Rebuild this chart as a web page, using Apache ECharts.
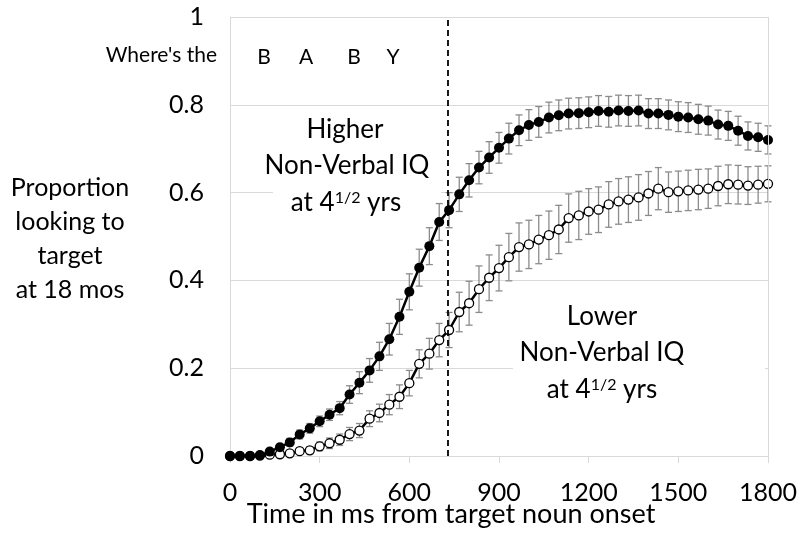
<!DOCTYPE html>
<html><head><meta charset="utf-8">
<script src="https://cdn.jsdelivr.net/npm/echarts@6/dist/echarts.min.js"></script>
<style>html,body{margin:0;padding:0;background:#fff}#c{width:800px;height:537px}</style>
</head><body><div id="c"></div>
<script>
// Time (ms from target noun onset), one sample per video frame
const timesMs = [0,33,67,100,133,167,200,233,267,300,333,367,400,433,467,500,533,567,600,633,667,700,733,767,800,833,867,900,933,967,1000,1033,1067,1100,1133,1167,1200,1233,1267,1300,1333,1367,1400,1433,1467,1500,1533,1567,1600,1633,1667,1700,1733,1767,1800];
// Higher Non-Verbal IQ group (filled circles)
const higherIQ = [0,0,0,0.002,0.01,0.02,0.031,0.049,0.063,0.079,0.094,0.109,0.140,0.167,0.195,0.227,0.266,0.317,0.374,0.429,0.478,0.533,0.560,0.596,0.628,0.657,0.680,0.702,0.723,0.742,0.754,0.761,0.771,0.776,0.780,0.781,0.783,0.786,0.784,0.787,0.786,0.787,0.780,0.780,0.777,0.773,0.771,0.767,0.764,0.755,0.752,0.741,0.729,0.726,0.720];
const higherErr = [0,0,0,0.002,0.005,0.007,0.009,0.010,0.011,0.012,0.013,0.015,0.020,0.025,0.027,0.032,0.036,0.040,0.041,0.042,0.042,0.042,0.040,0.039,0.038,0.037,0.036,0.035,0.035,0.035,0.035,0.035,0.035,0.035,0.035,0.035,0.035,0.035,0.035,0.035,0.035,0.035,0.034,0.034,0.034,0.034,0.034,0.034,0.033,0.033,0.033,0.033,0.032,0.032,0.032];
// Lower Non-Verbal IQ group (open circles)
const lowerIQ = [0,0,0,0.001,0.003,0.004,0.006,0.011,0.013,0.022,0.029,0.037,0.050,0.058,0.085,0.098,0.117,0.135,0.166,0.210,0.233,0.264,0.287,0.328,0.348,0.380,0.406,0.428,0.453,0.476,0.482,0.493,0.503,0.516,0.542,0.548,0.557,0.561,0.573,0.580,0.584,0.589,0.598,0.609,0.601,0.603,0.605,0.607,0.609,0.615,0.619,0.618,0.616,0.618,0.620];
const lowerErr = [0,0,0,0.001,0.003,0.004,0.005,0.007,0.008,0.010,0.012,0.013,0.015,0.016,0.018,0.020,0.023,0.027,0.029,0.032,0.035,0.038,0.040,0.045,0.050,0.053,0.052,0.052,0.054,0.055,0.055,0.055,0.055,0.055,0.055,0.055,0.052,0.052,0.052,0.052,0.052,0.052,0.050,0.048,0.046,0.046,0.046,0.046,0.045,0.045,0.044,0.044,0.043,0.042,0.041];
const yTicks = [0, 0.2, 0.4, 0.6, 0.8, 1];
const xTicks = [0, 300, 600, 900, 1200, 1500, 1800];
const nounOffsetMs = 728;
const babyLetters = ['B','A','B','Y'];

const FONT = 'Lato, "Open Sans", sans-serif';
const chart = echarts.init(document.getElementById('c'), null, {renderer:'canvas'});

function errSeries(vals, errs){
  return {
    type:'custom', z:1, silent:true,
    renderItem:(params, api)=>{
      const x = api.value(0), lo = api.value(1), hi = api.value(2);
      if (hi - lo < 0.003) return null;
      const a = api.coord([x, lo]), b = api.coord([x, hi]);
      const w = 3.5, st = {stroke:'#8c8c8c', lineWidth:1.3};
      return {type:'group', children:[
        {type:'line', shape:{x1:a[0],y1:a[1],x2:b[0],y2:b[1]}, style:st},
        {type:'line', shape:{x1:a[0]-w,y1:a[1],x2:a[0]+w,y2:a[1]}, style:st},
        {type:'line', shape:{x1:b[0]-w,y1:b[1],x2:b[0]+w,y2:b[1]}, style:st}
      ]};
    },
    encode:{x:0, y:[1,2]},
    data: timesMs.map((t,i)=>[t, vals[i]-errs[i], vals[i]+errs[i]])
  };
}

const textStyle = (txt, x, y, size, align) => ({
  type:'text', x, y, z:10,
  style:{text:txt, font: size+'px '+FONT, fill:'#000', textAlign: align||'center', textVerticalAlign:'middle'}
});
const supText = (x, y) => ({
  type:'text', x, y, z:10,
  style:{text:'at 4{sup|1/2} yrs', font:'26px '+FONT, fill:'#000', textAlign:'center', textVerticalAlign:'middle',
    rich:{sup:{font:'16px '+FONT, fill:'#000', verticalAlign:'top'}}}
});
const letterX = [264, 306, 354, 393];

chart.setOption({
  animation:false,
  backgroundColor:'#fff',
  grid:{left:230, right:32, top:17, bottom:81, containLabel:false},
  xAxis:{type:'value', min:0, max:1800, interval:300,
    axisLine:{show:true, lineStyle:{color:'#d9d9d9', width:1}},
    axisTick:{show:true, length:7, lineStyle:{color:'#d9d9d9'}},
    splitLine:{show:false},
    axisLabel:{fontFamily:FONT, fontSize:25, color:'#000', margin:24,
      formatter:v=>xTicks.includes(v)?String(v):''}
  },
  yAxis:{type:'value', min:0, max:1, interval:0.2,
    axisLine:{show:true, lineStyle:{color:'#d9d9d9', width:1}},
    axisTick:{show:false},
    splitLine:{show:true, lineStyle:{color:'#d9d9d9', width:1}},
    axisLabel:{fontFamily:FONT, fontSize:25, color:'#000', margin:26,
      formatter:v=>{const t=yTicks.find(k=>Math.abs(k-v)<1e-6); return t===undefined?'':String(t);}}
  },
  graphic:[
    {type:'rect', z:1, shape:{x:273, y:110, width:168, height:162}, style:{fill:'#fff'}},
    {type:'rect', z:1, shape:{x:513, y:292, width:252, height:118}, style:{fill:'#fff'}},
    textStyle('Higher', 345, 130, 26),
    textStyle('Non-Verbal IQ', 347, 166, 26),
    supText(346, 203),
    textStyle('Lower', 602, 317, 26),
    textStyle('Non-Verbal IQ', 602, 353, 26),
    supText(602, 390),
    textStyle("Where's the", 217, 55, 21, 'right'),
    ...babyLetters.map((l,i)=>textStyle(l, letterX[i], 57, 21)),
    textStyle('Proportion', 70, 188, 25),
    textStyle('looking to', 70, 222, 25),
    textStyle('target', 70, 256, 25),
    textStyle('at 18 mos', 70, 290, 25),
    textStyle('Time in ms from target noun onset', 451, 514, 27)
  ],
  series:[
    errSeries(lowerIQ, lowerErr),
    errSeries(higherIQ, higherErr),
    {type:'line', z:3, name:'Lower', data: timesMs.map((t,i)=>[t, lowerIQ[i]]),
      symbol:'circle', symbolSize:9, showSymbol:true,
      lineStyle:{color:'#000', width:2.5},
      itemStyle:{color:'#fff', borderColor:'#000', borderWidth:1.3},
      emphasis:{disabled:true},
      markLine:{silent:true, symbol:'none', label:{show:false},
        data:[
          {xAxis:nounOffsetMs, lineStyle:{color:'#000', type:[6,4], width:1.8}},
          {xAxis:1800, lineStyle:{color:'#d9d9d9', type:'solid', width:1}}
        ]}
    },
    {type:'line', z:4, name:'Higher', data: timesMs.map((t,i)=>[t, higherIQ[i]]),
      symbol:'circle', symbolSize:10, showSymbol:true,
      lineStyle:{color:'#000', width:2.5},
      itemStyle:{color:'#000', borderColor:'#000', borderWidth:0},
      emphasis:{disabled:true}
    }
  ]
});
</script></body></html>
